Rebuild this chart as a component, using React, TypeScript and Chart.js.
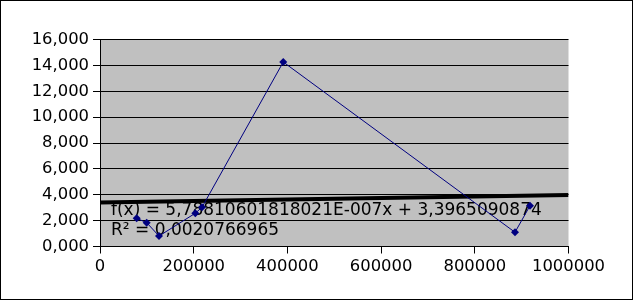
import React, { useEffect, useRef } from "react";
import { Chart, registerables } from "chart.js";

Chart.register(...registerables);

const xValues = [78300, 99700, 126000, 203400, 217700, 391200, 885800, 917800];
const yValues = [2.18, 1.84, 0.81, 2.57, 3.03, 14.26, 1.1, 3.15];
const trendX = [0, 1000000];
const trendY = [3.3965, 3.9753];
const equationLines = ["f(x) = 5,78810601818021E-007x + 3,3965090874", "R² = 0,0020766965"];

const FONT = "'DejaVu Sans', sans-serif";

export default function App() {
  const ref = useRef<HTMLCanvasElement | null>(null);
  useEffect(() => {
    if (!ref.current) return;
    const bgPlugin = {
      id: "bg",
      beforeDraw(chart: any) {
        const { ctx, chartArea: a, width, height } = chart;
        ctx.save();
        ctx.fillStyle = "#ffffff";
        ctx.fillRect(0, 0, width, height);
        ctx.fillStyle = "#c0c0c0";
        ctx.fillRect(a.left, a.top, a.right - a.left, a.bottom - a.top);
        ctx.restore();
      },
      beforeDatasetsDraw(chart: any) {
        const { ctx } = chart;
        ctx.save();
        ctx.fillStyle = "#000000";
        ctx.font = "17px " + FONT;
        ctx.textBaseline = "alphabetic";
        ctx.textAlign = "left";
        ctx.fillText(equationLines[0], 111, 214.5);
        ctx.fillText(equationLines[1], 111, 235);
        ctx.restore();
      },
      afterDraw(chart: any) {
        const { ctx, width, height } = chart;
        ctx.save();
        ctx.strokeStyle = "#000000";
        ctx.lineWidth = 1;
        ctx.strokeRect(0.5, 0.5, width - 1, height - 1);
        ctx.restore();
      },
    };
    const chart = new Chart(ref.current, {
      type: "scatter",
      data: {
        datasets: [
          {
            label: "Series",
            data: xValues.map((x, i) => ({ x, y: yValues[i] })),
            showLine: true,
            borderColor: "#000080",
            backgroundColor: "#000080",
            borderWidth: 1,
            pointStyle: "rectRot",
            pointRadius: 4,
            pointBorderWidth: 0,
            order: 1,
          },
          {
            label: "Trend",
            data: trendX.map((x, i) => ({ x, y: trendY[i] })),
            showLine: true,
            borderColor: "#000000",
            backgroundColor: "#000000",
            borderWidth: 4,
            pointRadius: 0,
            order: 2,
          },
        ],
      },
      options: {
        animation: false,
        responsive: false,
        maintainAspectRatio: false,
        layout: { padding: { left: 0, top: 39.5, right: 64.5, bottom: 0 } },
        plugins: { legend: { display: false }, tooltip: { enabled: false } },
        scales: {
          x: {
            type: "linear",
            min: 0,
            max: 1000000,
            ticks: {
              stepSize: 200000,
              color: "#000000",
              font: { family: FONT, size: 16.4 },
              padding: 3,
              maxRotation: 0,
              callback: (v: any) => String(v),
            },
            grid: { drawOnChartArea: false, drawTicks: true, tickLength: 7, color: "#000000" },
            border: { display: true, color: "#000000" },
            afterFit: (s: any) => {
              s.height = 53.5;
            },
          },
          y: {
            type: "linear",
            min: 0,
            max: 16,
            ticks: {
              stepSize: 2,
              color: "#000000",
              font: { family: FONT, size: 16.4 },
              padding: 4,
              callback: (v: any) => Number(v).toFixed(3).replace(".", ","),
            },
            grid: { color: "#000000", tickLength: 7, drawTicks: true },
            border: { display: true, color: "#000000" },
            afterFit: (s: any) => {
              s.width = 100;
            },
          },
        },
      },
      plugins: [bgPlugin],
    });
    return () => chart.destroy();
  }, []);
  return (
    <div style={{ position: "fixed", left: 0, top: 0, width: 633, height: 300 }}>
      <canvas ref={ref} width={633} height={300} style={{ display: "block", width: 633, height: 300 }} />
    </div>
  );
}
